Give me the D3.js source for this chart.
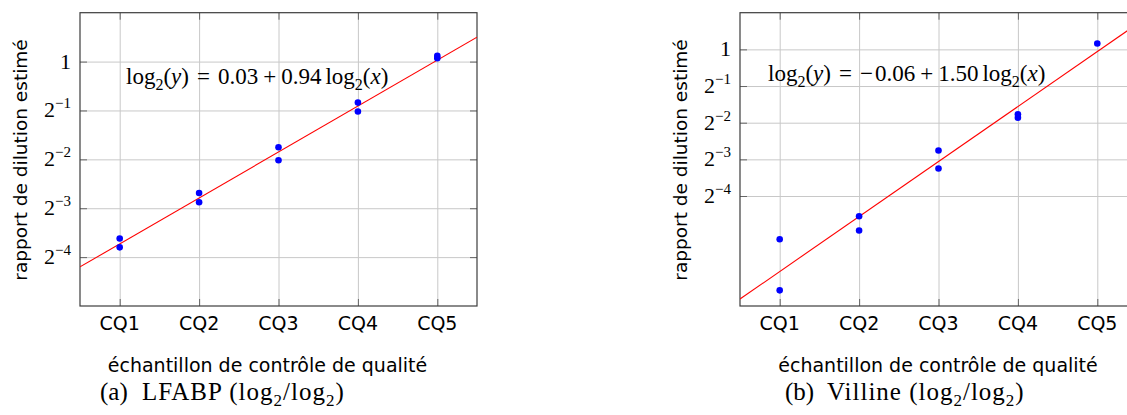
<!DOCTYPE html>
<html>
<head>
<meta charset="utf-8">
<script src="https://cdn.jsdelivr.net/npm/d3@7"></script>
<style>
  body { margin: 0; background: #fff; }
  svg { display: block; }
</style>
</head>
<body>
<svg id="fig" width="1127" height="415"></svg>
<script>
// categories on the x axis
var categories = ['CQ1', 'CQ2', 'CQ3', 'CQ4', 'CQ5'];

// y tick values and their exponent labels
var yTickValues = [1, 0.5, 0.25, 0.125, 0.0625];
var yTickExp = ['', '\u22121', '\u22122', '\u22123', '\u22124'];

// LFABP points (category index, estimated dilution ratio)
var lfabpCat = [1, 1, 2, 2, 3, 3, 4, 4, 5, 5];
var lfabpVal = [0.0814, 0.0718, 0.155, 0.136, 0.297, 0.247, 0.559, 0.493, 1.087, 1.05];
var lfabpFit = [0.03, 0.94]; // intercept, slope

// Villine points
var villineCat = [1, 1, 2, 2, 3, 3, 4, 4, 5];
var villineVal = [0.0276, 0.0105, 0.0426, 0.0326, 0.1476, 0.105, 0.293, 0.275, 1.117];
var villineFit = [-0.06, 1.50];

var svg = d3.select('#fig');
var top0 = 12.7, bottom0 = 306;
var sans = '"DejaVu Sans", sans-serif';
var serif = '"Liberation Serif", serif';

function drawPanel(opt) {
    var g = svg.append('g');
    var x = d3.scaleLinear().domain([0.5, 5.5]).range([opt.left, opt.right]);
    var y = d3.scaleLog().base(2).domain(opt.yDomain).range([bottom0, top0]);

    var clipId = 'clip' + opt.id;
    svg.append('clipPath').attr('id', clipId)
        .append('rect')
        .attr('x', opt.left).attr('y', top0)
        .attr('width', opt.right - opt.left).attr('height', bottom0 - top0);

    // grid
    g.append('g')
        .attr('transform', 'translate(0,' + bottom0 + ')')
        .call(d3.axisBottom(x).tickValues([1, 2, 3, 4, 5]).tickSize(-(bottom0 - top0)).tickFormat(''))
        .call(function(s) { s.select('.domain').remove(); })
        .selectAll('line').attr('stroke', '#c8c8c8');
    g.append('g')
        .attr('transform', 'translate(' + opt.left + ',0)')
        .call(d3.axisLeft(y).tickValues(yTickValues).tickSize(-(opt.right - opt.left)).tickFormat(''))
        .call(function(s) { s.select('.domain').remove(); })
        .selectAll('line').attr('stroke', '#c8c8c8');

    // inner ticks on all four sides
    var tl = 7;
    [['bottom', bottom0], ['top', top0]].forEach(function(p) {
        var ax = p[0] == 'bottom' ? d3.axisBottom(x) : d3.axisTop(x);
        g.append('g')
            .attr('transform', 'translate(0,' + p[1] + ')')
            .call(ax.tickValues([1, 2, 3, 4, 5]).tickSize(-tl).tickFormat(''))
            .call(function(s) { s.select('.domain').remove(); })
            .selectAll('line').attr('stroke', '#666');
    });
    [['left', opt.left], ['right', opt.right]].forEach(function(p) {
        var ax = p[0] == 'left' ? d3.axisLeft(y) : d3.axisRight(y);
        g.append('g')
            .attr('transform', 'translate(' + p[1] + ',0)')
            .call(ax.tickValues(yTickValues).tickSize(-tl).tickFormat(''))
            .call(function(s) { s.select('.domain').remove(); })
            .selectAll('line').attr('stroke', '#666');
    });

    // frame
    g.append('rect')
        .attr('x', opt.left).attr('y', top0)
        .attr('width', opt.right - opt.left).attr('height', bottom0 - top0)
        .attr('fill', 'none').attr('stroke', '#3c3c3c').attr('stroke-width', 1.2);

    // regression line, log2(y) = a + b log2(x), with log2(x) = category - 5
    var a = opt.fit[0], b = opt.fit[1];
    var ends = [0.5, 5.5].map(function(c) {
        return [x(c), y(Math.pow(2, a + b * (c - 5)))];
    });
    g.append('path')
        .attr('clip-path', 'url(#' + clipId + ')')
        .attr('d', d3.line()(ends))
        .attr('stroke', 'red').attr('stroke-width', 1.1).attr('fill', 'none');

    // points
    g.selectAll('.dot')
        .data(opt.cat.map(function(c, i) { return [c, opt.val[i]]; }))
        .enter().append('circle')
        .attr('class', 'dot')
        .attr('cx', function(d) { return x(d[0]); })
        .attr('cy', function(d) { return y(d[1]); })
        .attr('r', 3.3)
        .attr('fill', 'blue');

    // x tick labels
    g.selectAll('.xlab')
        .data(categories)
        .enter().append('text')
        .attr('x', function(d, i) { return x(i + 1); })
        .attr('y', 330)
        .attr('text-anchor', 'middle')
        .style('font-family', sans)
        .style('font-size', '19px')
        .text(function(d) { return d; });

    // y tick labels 2^-n
    yTickValues.forEach(function(v, i) {
        var t = g.append('text')
            .attr('x', opt.left - 9)
            .attr('y', y(v) + 7)
            .attr('text-anchor', 'end')
            .style('font-family', serif)
            .style('font-size', '22px');
        if (yTickExp[i] == '') {
            t.text('1');
        } else {
            t.append('tspan').text('2');
            t.append('tspan').attr('dy', -9).style('font-size', '15px').text(yTickExp[i]);
        }
    });

    // axis titles
    g.append('text')
        .attr('transform', 'translate(' + opt.yTitleX + ',160) rotate(-90)')
        .attr('text-anchor', 'middle')
        .style('font-family', sans)
        .style('font-size', '18.5px')
        .text('rapport de dilution estimé');
    g.append('text')
        .attr('x', opt.xTitleX).attr('y', 372)
        .attr('text-anchor', 'middle')
        .style('font-family', sans)
        .style('font-size', '19px')
        .text('échantillon de contrôle de qualité');

    // equation
    var eq = g.append('text')
        .attr('x', opt.eqX).attr('y', opt.eqY)
        .style('font-family', serif)
        .style('font-size', '23px');
    function logPart(v, dx) {
        eq.append('tspan').attr('dx', dx).text('log');
        eq.append('tspan').attr('dy', 6).style('font-size', '16px').text('2');
        eq.append('tspan').attr('dy', -6).text('(');
        eq.append('tspan').style('font-style', 'italic').text(v);
        eq.append('tspan').text(')');
    }
    logPart('y', 0);
    eq.append('tspan').attr('dx', 8).text('=');
    if (a < 0) eq.append('tspan').attr('dx', 8).text('\u2212');
    eq.append('tspan').attr('dx', a < 0 ? 2 : 8).text(Math.abs(a).toFixed(2));
    eq.append('tspan').attr('dx', 5).text('+');
    eq.append('tspan').attr('dx', 5).text(b.toFixed(2));
    logPart('x', 4);

    // caption
    g.append('text')
        .attr('x', opt.capX).attr('y', 400)
        .style('font-family', serif)
        .style('font-size', '25px')
        .text(opt.capTag);
    var cap = g.append('text')
        .attr('x', opt.capX + 42).attr('y', 400)
        .attr('xml:space', 'preserve')
        .style('font-family', serif)
        .style('font-size', '25px')
        .style('letter-spacing', '1px');
    cap.append('tspan').text(opt.caption + ' (log');
    cap.append('tspan').attr('dy', 6).style('font-size', '17px').text('2');
    cap.append('tspan').attr('dy', -6).text('/log');
    cap.append('tspan').attr('dy', 6).style('font-size', '17px').text('2');
    cap.append('tspan').attr('dy', -6).text(')');
}

drawPanel({
    id: 'a', left: 80, right: 477, yDomain: [Math.pow(2, -5), 2],
    cat: lfabpCat, val: lfabpVal, fit: lfabpFit,
    yTitleX: 27, xTitleX: 267.5, eqX: 126, eqY: 84,
    capX: 100, capTag: '(a)', caption: 'LFABP'
});

drawPanel({
    id: 'b', left: 740, right: 1137, yDomain: [Math.pow(2, -7), 2],
    cat: villineCat, val: villineVal, fit: villineFit,
    yTitleX: 687, xTitleX: 938, eqX: 768, eqY: 81,
    capX: 785, capTag: '(b)', caption: 'Villine'
});
</script>
</body>
</html>
